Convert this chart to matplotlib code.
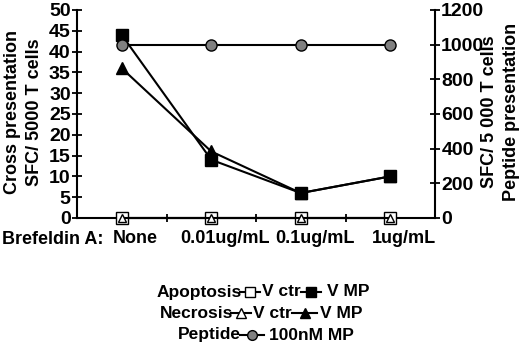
import matplotlib
matplotlib.use("Agg")
import matplotlib.pyplot as plt
from matplotlib.lines import Line2D
from matplotlib.transforms import offset_copy

plt.rcParams['font.family'] = ['Liberation Sans', 'DejaVu Sans']
plt.rcParams['font.weight'] = 'bold'

# data
CATEGORIES = ["None", "0.01ug/mL", "0.1ug/mL", "1ug/mL"]
APOP_CTR = [0, 0, 0, 0]
APOP_MP = [44, 14, 6, 10]
NECR_CTR = [0, 0, 0, 0]
NECR_MP = [36, 16, 6, 10]
PEPTIDE = [1000, 1000, 1000, 1000]

W, H = 520, 345
fig = plt.figure(figsize=(W / 100, H / 100), dpi=100)
ax = fig.add_axes([77 / W, 1 - 218 / H, (435 - 77) / W, (218 - 10) / H])
ax2 = ax.twinx()

x = list(range(len(CATEGORIES)))
ms = 8
ax.plot(x, APOP_MP, color='black', lw=1.5, marker='s', ms=ms, mfc='black', mec='black', zorder=4)
ax.plot(x, NECR_MP, color='black', lw=1.5, marker='^', ms=ms, mfc='black', mec='black', zorder=4)
ax.plot(x, APOP_CTR, color='black', lw=1.5, marker='s', ms=ms, mfc='white', mec='black', zorder=5, clip_on=False)
ax.plot(x, NECR_CTR, color='black', lw=1.5, marker='^', ms=6, mfc='white', mec='black', zorder=5, clip_on=False)
ax2.plot(x, PEPTIDE, color='black', lw=1.5, marker='o', ms=ms, mfc='#808080', mec='black', zorder=4)

ax.set_xlim(-0.5, 3.5)
ax.set_ylim(0, 50)
ax2.set_ylim(0, 1200)
ax.set_yticks(range(0, 51, 5))
ax2.set_yticks(range(0, 1201, 200))

ax.set_xticks([0.5, 1.5, 2.5])
ax.set_xticklabels([])
ax.tick_params(axis='x', direction='inout', length=6, width=1.3)
ax.tick_params(axis='y', direction='inout', length=7, width=1.3, labelsize=14, pad=1)
ax2.tick_params(axis='y', direction='inout', length=7, width=1.3, labelsize=14, pad=1)

for a in (ax, ax2):
    a.spines['top'].set_visible(False)
    for s in ('left', 'right', 'bottom'):
        a.spines[s].set_linewidth(1.5)
ax.spines['right'].set_visible(False)
ax2.spines['left'].set_visible(False)
ax2.spines['bottom'].set_visible(False)

# category labels, sitting a little right of the points as in the original
lab_tr = offset_copy(ax.get_xaxis_transform(), fig=fig, x=14, y=0, units='dots')
for i, lab in enumerate(CATEGORIES):
    ax.text(i, -0.1, lab, transform=lab_tr, ha='center', va='center',
            fontsize=13, fontweight='bold')
fig.text(2 / W, 1 - 239 / H, "Brefeldin A:", ha='left', va='center', fontsize=13, fontweight='bold')

fig.text(13 / W, 1 - 112 / H, "Cross presentation", rotation=90, ha='center', va='center',
         fontsize=13, fontweight='bold')
fig.text(35 / W, 1 - 112 / H, "SFC/ 5000 T cells", rotation=90, ha='center', va='center',
         fontsize=13, fontweight='bold')
fig.text(489 / W, 1 - 112 / H, "SFC/ 5 000 T cells", rotation=90, ha='center', va='center',
         fontsize=13, fontweight='bold')
fig.text(511 / W, 1 - 112 / H, "Peptide presentation", rotation=90, ha='center', va='center',
         fontsize=13, fontweight='bold')


# legend built by hand
def leg_line(x0, x1, y, marker, mfc, size=7):
    fig.add_artist(Line2D([x0 / W, x1 / W], [1 - y / H, 1 - y / H], transform=fig.transFigure,
                          color='black', lw=1.5))
    fig.add_artist(Line2D([(x0 + x1) / 2 / W], [1 - y / H], transform=fig.transFigure,
                          marker=marker, ms=size, mfc=mfc, mec='black', lw=0))


def leg_text(xr, y, s, ha='right'):
    fig.text(xr / W, 1 - y / H, s, ha=ha, va='center', fontsize=12.5, fontweight='bold')


leg_text(242, 292, "Apoptosis")
leg_line(240, 260, 292, 's', 'white')
leg_text(262, 292, "V ctr", ha='left')
leg_line(301, 321, 292, 's', 'black')
leg_text(327, 292, "V MP", ha='left')

leg_text(233, 313, "Necrosis")
leg_line(231, 251, 313, '^', 'white')
leg_text(253, 313, "V ctr", ha='left')
leg_line(292, 317, 313, '^', 'black')
leg_text(320, 313, "V MP", ha='left')

leg_text(241, 335, "Peptide")
leg_line(240, 264, 335, 'o', '#808080')
leg_text(269, 335, "100nM MP", ha='left')

fig.savefig("out.png", dpi=100)
